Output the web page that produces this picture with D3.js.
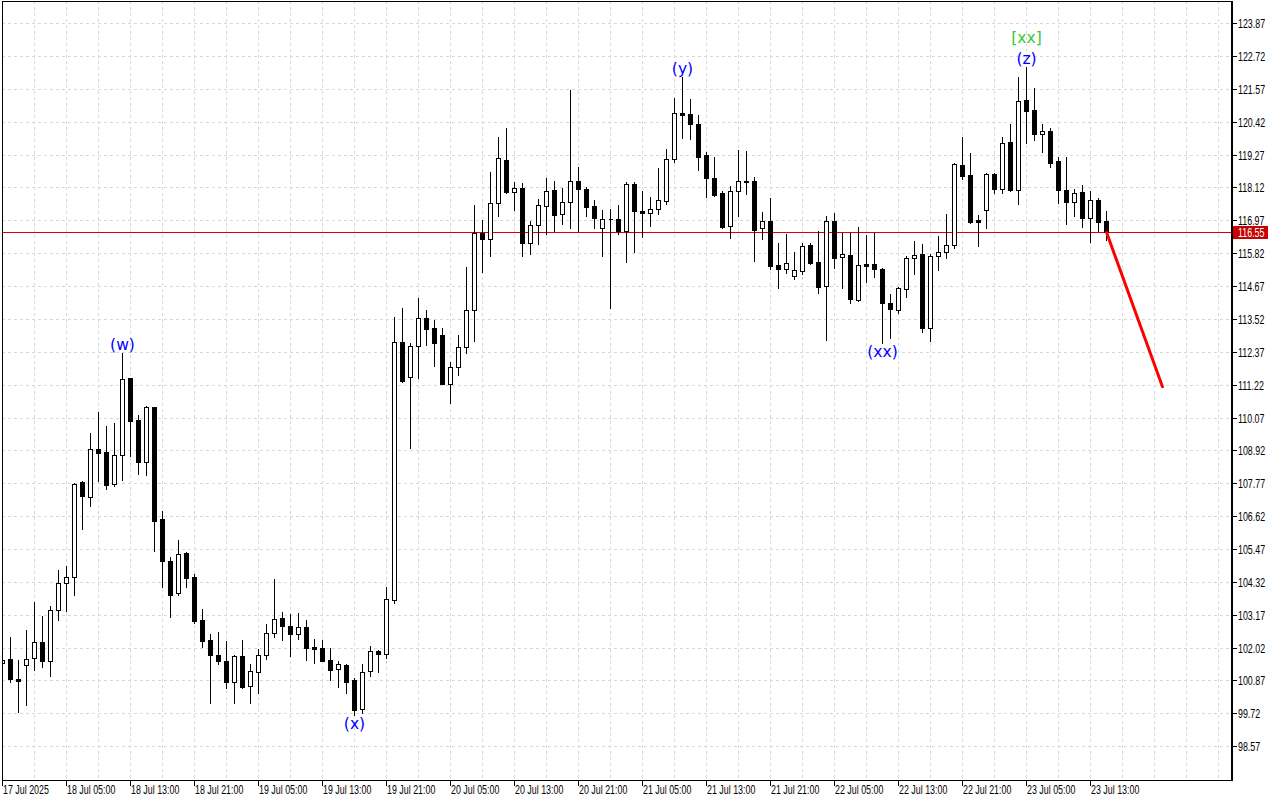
<!DOCTYPE html>
<html>
<head>
<meta charset="utf-8">
<title>Chart</title>
<script src="https://cdn.jsdelivr.net/npm/d3@7"></script>
<style>
  html, body { margin: 0; padding: 0; background: #fff; }
  svg { display: block; }
  .ax { font-family: "Liberation Sans", Arial, sans-serif; font-size: 12px; fill: #000; }
  .wave { font-family: "DejaVu Sans", sans-serif; font-size: 15.5px; }
</style>
</head>
<body>
<svg id="chart" width="1280" height="800"></svg>
<script>
// hourly bars, bar 0 = 17 Jul 21:00
var opens = [101.47,101.61,100.92,101.40,101.64,102.20,101.56,103.32,104.27,104.48,107.81,107.30,108.98,108.85,107.73,108.75,111.44,109.97,108.52,110.43,
  106.51,105.05,103.92,105.32,104.49,102.98,102.28,101.76,101.55,100.83,101.72,100.69,101.17,101.75,102.52,103.04,102.76,102.48,102.73,102.04,
  101.99,101.58,101.28,101.41,100.88,99.86,101.19,101.90,101.78,103.68,112.70,111.48,112.56,113.54,113.19,112.95,111.26,111.83,112.53,113.82,
  116.52,116.30,117.56,119.07,117.95,118.09,116.19,116.80,117.46,118.03,117.18,117.60,118.33,118.06,117.46,116.69,117.00,117.00,116.61,118.23,
  117.30,117.24,117.36,117.66,119.10,120.71,120.68,120.33,119.26,118.44,117.91,116.76,117.98,118.32,118.35,116.69,116.95,115.40,115.27,115.01,
  115.21,116.10,115.51,114.68,116.95,115.68,115.76,114.19,115.44,115.44,115.27,114.07,113.84,114.58,115.64,115.78,113.21,115.71,115.85,116.10,
  118.89,118.56,116.98,117.32,118.58,118.08,119.70,118.04,121.18,120.82,120.00,120.09,119.05,118.03,117.62,117.96,117.06,117.68,116.94]
var highs = [101.76,102.40,101.58,102.63,103.60,103.12,103.47,104.73,104.87,107.78,107.85,109.53,110.26,109.77,109.88,112.32,111.45,110.15,110.47,110.44,
  106.80,105.18,105.78,105.35,104.58,103.37,102.49,102.55,102.25,101.76,102.28,101.44,101.98,102.84,104.42,103.25,103.18,103.23,102.97,102.31,
  102.27,101.99,101.55,101.44,100.94,101.43,102.06,101.94,104.13,113.59,113.90,112.67,114.25,113.83,113.48,113.19,112.00,112.96,115.34,117.51,
  116.98,118.66,119.87,120.19,118.30,118.26,116.95,117.72,118.45,118.35,118.11,121.53,118.82,118.14,117.68,117.33,117.37,117.51,118.31,118.32,
  118.01,117.77,118.79,119.45,121.24,121.98,121.20,120.65,119.35,119.20,117.99,118.17,119.43,119.39,118.49,117.26,117.75,116.19,116.48,115.86,
  116.19,116.17,116.59,117.12,117.21,116.52,116.52,116.73,116.46,116.54,115.29,114.39,114.63,115.73,116.25,116.14,115.79,116.42,117.19,118.99,
  119.88,119.32,117.15,118.62,118.62,119.90,120.34,121.99,122.32,121.61,120.34,120.19,119.19,119.17,118.07,118.19,118.01,117.74,117.30]
var lows = [101.30,100.83,99.78,100.01,101.23,101.35,101.04,102.98,103.31,103.86,106.17,106.98,107.85,107.58,107.67,107.88,108.72,108.09,108.06,105.41,
  104.15,103.10,103.86,104.15,102.87,102.03,100.09,101.43,100.59,100.07,100.62,100.07,100.42,101.61,102.40,102.28,101.74,102.32,101.58,101.49,
  101.55,100.88,100.65,100.44,99.66,99.74,101.02,101.17,101.64,103.58,111.31,109.01,111.46,112.60,111.88,111.23,110.59,111.56,112.34,112.76,
  115.16,115.73,117.13,117.94,117.33,115.73,115.78,116.15,116.49,116.61,116.84,116.71,116.61,117.13,116.71,115.73,113.91,116.49,115.52,115.87,
  116.38,116.78,117.20,117.53,119.00,119.86,119.80,118.72,117.80,117.83,116.69,116.36,117.13,117.89,115.56,116.33,115.26,114.61,115.14,114.91,
  115.09,115.43,114.44,112.78,115.31,114.61,114.09,114.14,114.82,115.00,112.67,112.85,113.74,114.30,115.09,113.07,112.76,115.23,115.66,116.01,
  118.43,116.89,116.08,116.71,117.91,117.94,118.01,117.53,119.66,119.78,119.37,118.85,117.56,116.84,117.13,116.73,116.22,116.60,116.28]
var closes = [101.58,100.93,100.84,101.61,102.20,101.56,103.32,104.27,104.48,107.73,107.33,108.96,108.84,107.72,108.75,111.41,109.96,108.52,110.43,106.46,
  105.06,103.86,105.29,104.46,102.96,102.26,101.77,101.56,100.83,101.72,100.65,101.19,101.76,102.52,103.01,102.78,102.48,102.73,102.02,101.98,
  101.56,101.25,101.43,100.83,99.84,101.15,101.90,101.78,103.71,112.70,111.36,112.57,113.54,113.18,112.67,111.25,111.83,112.53,113.82,116.52,
  116.33,117.56,119.14,117.97,118.09,116.19,116.80,117.49,117.98,117.17,117.60,118.33,118.05,117.45,117.06,117.00,117.01,116.61,118.25,117.31,
  117.24,117.36,117.67,119.10,120.71,120.65,120.33,119.20,118.44,117.87,116.74,117.98,118.33,118.33,116.64,116.95,115.38,115.26,115.47,115.22,
  116.06,115.49,114.65,116.94,115.66,115.78,114.22,115.40,115.38,115.28,114.07,113.86,114.59,115.65,115.76,113.21,115.72,115.85,116.10,118.93,
  118.53,116.92,116.92,118.58,118.08,119.66,118.04,121.13,120.80,120.00,120.09,118.99,118.04,117.62,117.91,117.06,117.68,116.92,116.55]

var xLabels = ["17 Jul 2025","18 Jul 05:00","18 Jul 13:00","18 Jul 21:00","19 Jul 05:00","19 Jul 13:00","19 Jul 21:00","20 Jul 05:00","20 Jul 13:00",
  "20 Jul 21:00","21 Jul 05:00","21 Jul 13:00","21 Jul 21:00","22 Jul 05:00","22 Jul 13:00","22 Jul 21:00","23 Jul 05:00","23 Jul 13:00"]
var xLabelBars = [0,8,16,24,32,40,48,56,64,72,80,88,96,104,112,120,128,136]
var yTicks = [98.57,99.72,100.87,102.02,103.17,104.32,105.47,106.62,107.77,108.92,110.07,111.22,112.37,113.52,114.67,115.82,116.97,118.12,119.27,120.42,121.57,122.72,123.87]

var lastPrice = 116.55
var forecastBars = [138, 145]
var forecastPrices = [116.55, 111.15]

var waveText = ["(w)","(x)","(y)","(xx)","(z)","[xx]"]
var waveBar = [15,44,85,110,128,128]
var waveSide = ["above","below","above","below","above","above"]

var svg = d3.select("#chart")
var plot = { left: 2, top: 1, right: 1231, bottom: 780 }

var x = d3.scaleLinear().domain([0, 138]).range([2.5, 1106.5])
var y = d3.scaleLinear().domain([98.57, 123.87]).range([746.2, 23.1])
function py(v) { return Math.round(y(v)) + 0.5 }

// narrow axis text (the terminal font is condensed)
function axText(sel, tx, ty, dy) {
  return sel.attr("class", "ax")
    .attr("transform", function (d, k) { return "translate(" + tx(d, k) + "," + ty(d, k) + ") scale(0.74,1)" })
    .attr("dy", dy)
}

svg.append("defs").append("clipPath").attr("id", "clip")
  .append("rect").attr("x", plot.left + 1).attr("y", plot.top + 1)
  .attr("width", plot.right - plot.left - 1).attr("height", plot.bottom - plot.top - 1)

var g = svg.append("g").attr("clip-path", "url(#clip)")

// grid
g.append("g").selectAll("line").data(yTicks).enter().append("line")
  .attr("x1", plot.left).attr("x2", plot.right)
  .attr("y1", function (d) { return py(d) }).attr("y2", function (d) { return py(d) })
  .attr("stroke", "#d8d8d8").attr("stroke-dasharray", "3,3").attr("shape-rendering", "crispEdges")

var vBars = d3.range(4, 160, 4).filter(function (b) { return x(b) < plot.right })
g.append("g").selectAll("line").data(vBars).enter().append("line")
  .attr("x1", function (d) { return x(d) }).attr("x2", function (d) { return x(d) })
  .attr("y1", plot.top).attr("y2", plot.bottom)
  .attr("stroke", "#d8d8d8").attr("stroke-dasharray", "3,3").attr("shape-rendering", "crispEdges")

// current price line
g.append("line").attr("x1", plot.left).attr("x2", plot.right)
  .attr("y1", py(lastPrice)).attr("y2", py(lastPrice))
  .attr("stroke", "#e00000").attr("stroke-width", 1).attr("shape-rendering", "crispEdges")

// candles
var bars = opens.map(function (o, i) {
  return { i: i, o: o, h: highs[i], l: lows[i], c: closes[i] }
})
var cg = g.append("g").selectAll("g").data(bars).enter().append("g")
cg.append("line")
  .attr("x1", function (d) { return x(d.i) }).attr("x2", function (d) { return x(d.i) })
  .attr("y1", function (d) { return Math.round(y(d.h)) }).attr("y2", function (d) { return Math.round(y(d.l)) + 1 })
  .attr("stroke", "#000").attr("shape-rendering", "crispEdges")
cg.append("path")
  .attr("d", function (d) {
    var cx = x(d.i)
    var t = py(Math.max(d.o, d.c)), b = py(Math.min(d.o, d.c))
    return "M" + (cx - 2) + "," + t + "H" + (cx + 2) + "V" + b + "H" + (cx - 2) + "Z"
  })
  .attr("fill", function (d) { return d.c >= d.o ? "#fff" : "#000" })
  .attr("stroke", "#000").attr("shape-rendering", "crispEdges")

// forecast
g.append("path")
  .datum(forecastBars.map(function (b, k) { return [b, forecastPrices[k]] }))
  .attr("d", d3.line().x(function (d) { return x(d[0]) }).y(function (d) { return y(d[1]) }))
  .attr("fill", "none").attr("stroke", "#ff0000").attr("stroke-width", 3).attr("stroke-linecap", "round")

// wave labels
var stack = {}
waveText.forEach(function (t, k) {
  var b = waveBar[k], side = waveSide[k]
  var key = b + side
  var n = stack[key] || 0
  stack[key] = n + 1
  var cy
  if (side === "above") cy = y(highs[b]) - 8 - n * 21
  else cy = y(lows[b]) + 8.5 + n * 21
  g.append("text").attr("class", "wave")
    .attr("x", x(b)).attr("y", cy + 5)
    .attr("text-anchor", "middle")
    .attr("fill", t.charAt(0) === "[" ? "#36c836" : "#0000ff")
    .text(t)
})

// frame
svg.append("rect").attr("x", plot.left + 0.5).attr("y", plot.top + 0.5)
  .attr("width", plot.right - plot.left).attr("height", plot.bottom - plot.top)
  .attr("fill", "none").attr("stroke", "#000").attr("shape-rendering", "crispEdges")
svg.append("line").attr("x1", plot.right + 1.5).attr("x2", plot.right + 1.5)
  .attr("y1", plot.top).attr("y2", plot.bottom + 1)
  .attr("stroke", "#000").attr("shape-rendering", "crispEdges")

// right axis
var ya = svg.append("g")
ya.selectAll("line").data(yTicks).enter().append("line")
  .attr("x1", plot.right + 2).attr("x2", plot.right + 6)
  .attr("y1", function (d) { return py(d) }).attr("y2", function (d) { return py(d) })
  .attr("stroke", "#000").attr("shape-rendering", "crispEdges")
axText(ya.selectAll("text").data(yTicks).enter().append("text"),
  function () { return plot.right + 7 }, function (d) { return py(d) }, "0.35em")
  .text(function (d) { return d.toFixed(2) })

// price tag
var pyv = py(lastPrice)
svg.append("rect").attr("x", plot.right + 2).attr("y", pyv - 6.5).attr("width", 35).attr("height", 13)
  .attr("fill", "#c80000")
axText(svg.append("text"), function () { return plot.right + 7 }, function () { return pyv }, "0.35em")
  .style("fill", "#fff").text(lastPrice.toFixed(2))

// bottom axis
var xa = svg.append("g")
xa.selectAll("line").data(xLabelBars).enter().append("line")
  .attr("x1", function (d) { return x(d) }).attr("x2", function (d) { return x(d) })
  .attr("y1", plot.bottom + 1).attr("y2", plot.bottom + 6)
  .attr("stroke", "#000").attr("shape-rendering", "crispEdges")
axText(xa.selectAll("text").data(xLabelBars).enter().append("text"),
  function (d) { return x(d) + 0.5 }, function () { return plot.bottom + 14 }, 0)
  .text(function (d, k) { return xLabels[k] })
</script>
</body>
</html>
